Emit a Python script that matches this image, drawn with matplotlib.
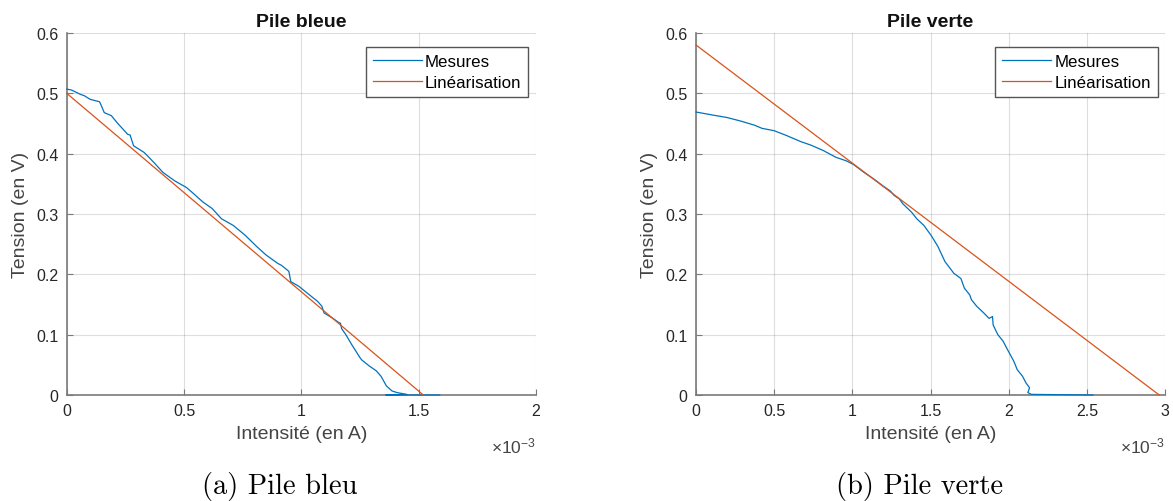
import numpy as np
import matplotlib
matplotlib.use('Agg')
import matplotlib.pyplot as plt
from matplotlib.ticker import FuncFormatter, MultipleLocator

plt.rcParams['font.family'] = ['Liberation Sans', 'DejaVu Sans']
plt.rcParams['mathtext.fontset'] = 'custom'
plt.rcParams['mathtext.rm'] = 'Liberation Sans'
plt.rcParams['mathtext.it'] = 'Liberation Sans:italic'

# pile bleue : mesures (courant en mA, tension en V)
courant_bleu_mA = [0, 0.02, 0.06, 0.075, 0.10, 0.14, 0.148, 0.16, 0.19, 0.22, 0.26, 0.27,
                   0.285, 0.33, 0.37, 0.41, 0.46, 0.51, 0.54, 0.58, 0.62, 0.66, 0.71, 0.76,
                   0.81, 0.85, 0.90, 0.915, 0.947, 0.955, 0.99, 1.025, 1.07, 1.088, 1.097,
                   1.135, 1.16, 1.167, 1.172, 1.19, 1.215, 1.25, 1.258, 1.29, 1.32, 1.34,
                   1.35, 1.363, 1.387, 1.41, 1.45, 1.36, 1.59]
tension_bleu = [0.507, 0.5055, 0.498, 0.496, 0.490, 0.486, 0.479, 0.468, 0.463, 0.449, 0.432,
                0.431, 0.413, 0.402, 0.386, 0.369, 0.355, 0.344, 0.334, 0.320, 0.309, 0.292,
                0.281, 0.265, 0.246, 0.232, 0.218, 0.215, 0.205, 0.188, 0.180, 0.169, 0.155,
                0.147, 0.136, 0.127, 0.120, 0.119, 0.110, 0.100, 0.0835, 0.062, 0.058, 0.048,
                0.040, 0.031, 0.024, 0.015, 0.0066, 0.0038, 0.001, 0.0, 0.0]
# linearisation pile bleue
lin_courant_bleu_mA = [0, 1.52]
lin_tension_bleu = [0.5, 0]

# pile verte : mesures
courant_vert_mA = [0, 0.106, 0.196, 0.286, 0.376, 0.421, 0.5, 0.579, 0.669, 0.736, 0.815,
                   0.894, 0.962, 1.007, 1.074, 1.142, 1.198, 1.243, 1.266, 1.30, 1.322, 1.378,
                   1.412, 1.457, 1.502, 1.547, 1.592, 1.649, 1.694, 1.716, 1.75, 1.761, 1.795,
                   1.84, 1.874, 1.896, 1.90, 1.93, 1.964, 1.986, 2.009, 2.032, 2.054, 2.088,
                   2.11, 2.133, 2.122, 2.144, 2.538]
tension_vert = [0.469, 0.464, 0.460, 0.454, 0.447, 0.442, 0.438, 0.430, 0.420, 0.414, 0.405,
                0.394, 0.388, 0.382, 0.369, 0.357, 0.346, 0.338, 0.331, 0.325, 0.317, 0.303,
                0.292, 0.281, 0.265, 0.246, 0.221, 0.2016, 0.193, 0.177, 0.166, 0.158, 0.147,
                0.136, 0.127, 0.130, 0.116, 0.100, 0.089, 0.078, 0.067, 0.056, 0.042, 0.031,
                0.020, 0.012, 0.004, 0.001, 0.0]
lin_courant_vert_mA = [0, 2.962]
lin_tension_vert = [0.58, 0]

titres = ['Pile bleue', 'Pile verte']
legendes = ['Mesures', 'Linéarisation']
sous_titres = ['(a) Pile bleu', '(b) Pile verte']

bleu = '#0072BD'
orange = '#D95319'
gris = '#262626'

fig = plt.figure(figsize=(11.73, 5.02), dpi=100)
ax1 = fig.add_axes([0.0569, 0.2112, 0.3999, 0.7211])
ax2 = fig.add_axes([0.5934, 0.2112, 0.3999, 0.7211])

series = [
    (ax1, courant_bleu_mA, tension_bleu, lin_courant_bleu_mA, lin_tension_bleu, 2e-3, titres[0]),
    (ax2, courant_vert_mA, tension_vert, lin_courant_vert_mA, lin_tension_vert, 3e-3, titres[1]),
]

for ax, i_m, u_m, i_l, u_l, xmax, titre in series:
    ax.plot(np.array(i_m) * 1e-3, u_m, color=bleu, lw=0.9, label=legendes[0], zorder=3, clip_on=False)
    ax.plot(np.array(i_l) * 1e-3, u_l, color=orange, lw=0.9, label=legendes[1], zorder=3, clip_on=False)
    ax.set_xlim(0, xmax)
    ax.set_ylim(0, 0.6)
    ax.xaxis.set_major_locator(MultipleLocator(0.5e-3))
    ax.yaxis.set_major_locator(MultipleLocator(0.1))
    ax.xaxis.set_major_formatter(FuncFormatter(lambda v, p: f'{round(v * 1e3, 3):g}'))
    ax.yaxis.set_major_formatter(FuncFormatter(lambda v, p: f'{round(v, 3):g}'))
    ax.grid(True, color=gris, alpha=0.15, lw=0.8)
    ax.set_axisbelow(True)
    for s in ['top', 'right']:
        ax.spines[s].set_visible(False)
    for s in ['left', 'bottom']:
        ax.spines[s].set_color('#7a7a7a')
        ax.spines[s].set_linewidth(1.2)
    ax.tick_params(direction='in', length=4, width=0.8, color='#7a7a7a', labelsize=11.5,
                   labelcolor=gris, pad=6)
    ax.set_title(titre, fontsize=14, fontweight='bold', color='#111111', pad=5)
    ax.set_xlabel('Intensité (en A)', fontsize=14, color='#444444', labelpad=5)
    ax.set_ylabel('Tension (en V)', fontsize=14, color='#444444', labelpad=5)
    ax.text(1.0, -0.14, r'$\times10^{-3}$', transform=ax.transAxes, ha='right', va='center',
            fontsize=12.5, color='#444444')
    leg = ax.legend(loc='upper right', bbox_to_anchor=(0.984, 0.961), borderaxespad=0,
                    fontsize=12.2, handlelength=2.9, handletextpad=0.2, borderpad=0.4,
                    labelspacing=0.35, fancybox=False, framealpha=1, edgecolor='#555555')
    leg.get_frame().set_linewidth(1.0)

fig.text(0.2387, 0.03, sous_titres[0], ha='center', va='center', fontsize=20.5, family='cmr10')
fig.text(0.784, 0.03, sous_titres[1], ha='center', va='center', fontsize=20.5, family='cmr10')

fig.savefig('out.png', dpi=100)
